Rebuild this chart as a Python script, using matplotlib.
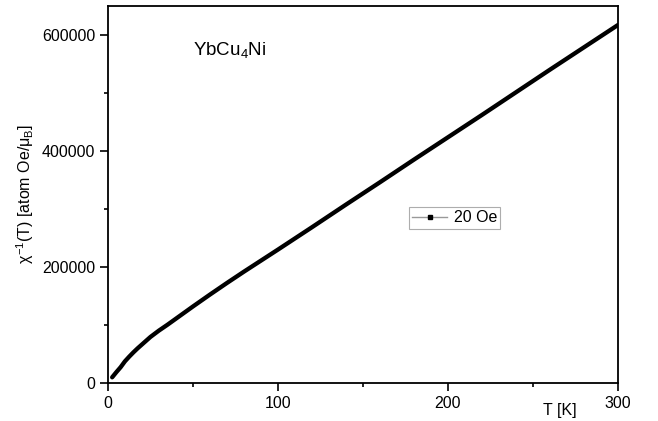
import numpy as np
import matplotlib.pyplot as plt
from matplotlib.lines import Line2D
from matplotlib.ticker import MultipleLocator

plt.rcParams['font.family'] = ['Liberation Sans', 'DejaVu Sans']
plt.rcParams['mathtext.fontset'] = 'custom'
plt.rcParams['mathtext.rm'] = 'Liberation Sans'
plt.rcParams['mathtext.it'] = 'Liberation Sans'

# inverse susceptibility
temp = [2.5, 5, 7.5, 10, 12.5, 15, 17.5, 20, 25, 30, 35, 40, 50, 60, 70,
        80, 90, 100, 120, 140, 160, 180, 200, 220, 240, 260, 280, 300]
chi_inv = [10000, 19000, 27500, 37500, 45500, 53000, 60000, 66500, 79500,
           90500, 100500, 111000, 132000, 152500, 172500, 192000, 211000,
           230000, 268500, 307500, 346000, 385000, 423500, 462000, 501000,
           540000, 578500, 617000]
legend_label = '20 Oe'

fig = plt.figure(figsize=(6.58, 4.21), dpi=100)
ax = fig.add_axes([0.164, 0.090, 0.775, 0.896])

ax.plot(temp, chi_inv, color='black', lw=3.1, solid_capstyle='round',
        solid_joinstyle='round')

ax.set_xlim(0, 300)
ax.set_ylim(0, 650000)
ax.xaxis.set_major_locator(MultipleLocator(100))
ax.xaxis.set_minor_locator(MultipleLocator(50))
ax.yaxis.set_major_locator(MultipleLocator(200000))
ax.yaxis.set_minor_locator(MultipleLocator(100000))
ax.tick_params(which='major', direction='out', length=6, width=1.2, labelsize=11.5, pad=3)
ax.tick_params(which='minor', direction='out', length=3, width=1.2)
for s in ax.spines.values():
    s.set_linewidth(1.3)

ax.text(0.166, 0.883, 'YbCu$_4$Ni', transform=ax.transAxes, fontsize=13.5, va='center')
ax.set_ylabel(r'$\chi^{-1}$(T) [atom Oe/$\mu_B$]', fontsize=11.5, labelpad=4)
fig.text(560 / 658, 1 - 410 / 421, 'T [K]', fontsize=11.5, ha='center', va='center')

handle = Line2D([], [], color='#999999', lw=1, marker='s', markersize=3,
                markerfacecolor='black', markeredgecolor='black')
leg = ax.legend([handle], [legend_label], loc='center', bbox_to_anchor=(0.68, 0.438),
                fontsize=11.5, frameon=True, fancybox=False, handlelength=2.2,
                borderpad=0.2, handletextpad=0.4, borderaxespad=0)
leg.get_frame().set_edgecolor('#999999')
leg.get_frame().set_linewidth(0.8)

fig.savefig('out.png', dpi=100)
